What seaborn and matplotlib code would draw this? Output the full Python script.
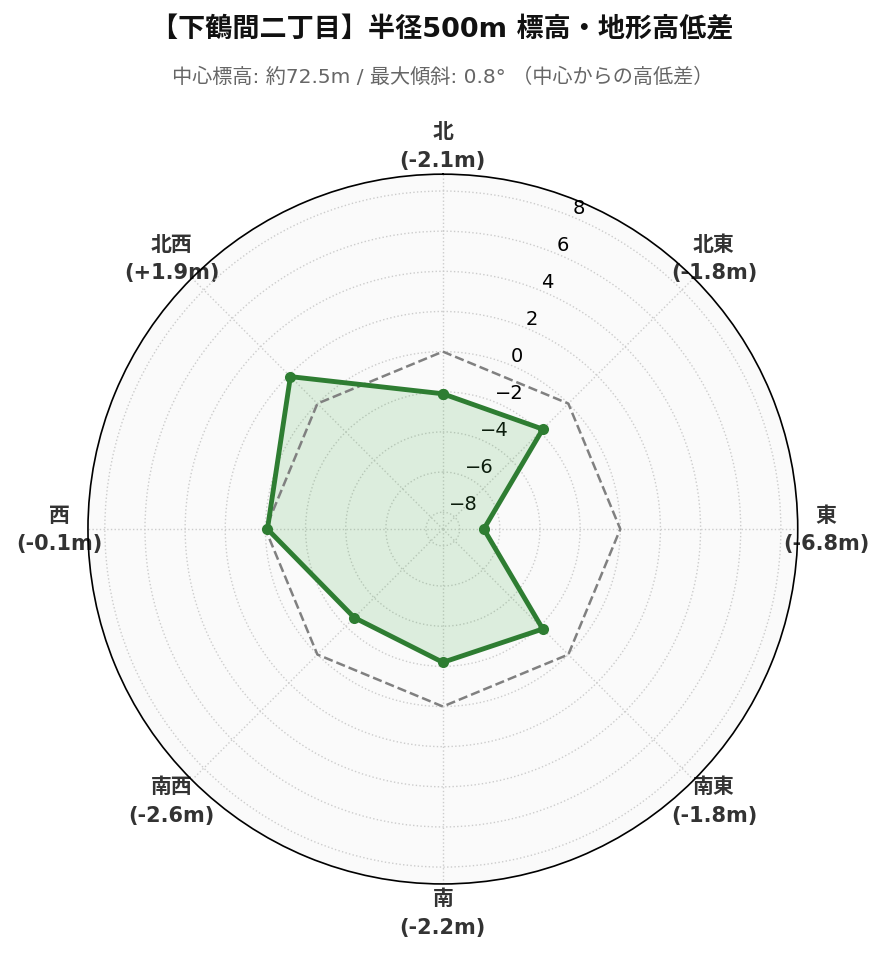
import numpy as np
import pandas as pd
import seaborn as sns
import matplotlib.pyplot as plt

directions = ["北", "北東", "東", "南東", "南", "南西", "西", "北西"]
diffs = [-2.1, -1.8, -6.8, -1.8, -2.2, -2.6, -0.1, 1.9]
r_ticks = [-8, -6, -4, -2, 0, 2, 4, 6, 8]

title = "【下鶴間二丁目】半径500m 標高・地形高低差"
subtitle = "中心標高: 約72.5m / 最大傾斜: 0.8° （中心からの高低差）"

sns.set_style("white")
plt.rcParams["font.family"] = ["DejaVu Sans", "Noto Sans CJK JP"]

green = "#2e7d32"
angles = np.linspace(0, 2 * np.pi, len(directions), endpoint=False)
df = pd.DataFrame({
    "angle": np.append(angles, 2 * np.pi),
    "diff": diffs + diffs[:1],
})
lim = max(abs(v) for v in diffs) * 1.3

fig = plt.figure(figsize=(8.85, 9.62), dpi=100)
ax = fig.add_axes([0.0994, 0.080, 0.802, 0.738], projection="polar")
ax.set_theta_offset(np.pi / 2)
ax.set_theta_direction(-1)
ax.set_facecolor("#fafafa")

# zero reference
ax.plot(df["angle"], [0] * len(df), color="gray", linestyle="--", linewidth=1.8, zorder=2)

sns.lineplot(data=df, x="angle", y="diff", sort=False, color=green, linewidth=3.5,
             marker="o", markersize=8, markeredgewidth=0, ax=ax, zorder=3)
ax.fill(df["angle"], df["diff"], color="#4caf50", alpha=0.17, linewidth=0, zorder=1)

ax.set_ylim(-lim, lim)
ax.set_yticks(r_ticks)
ax.set_yticklabels([f"{t}".replace("-", "\u2212") for t in r_ticks], fontsize=14, color="black")
ax.set_rlabel_position(22.5)
ax.set_xticks(angles)
ax.set_xticklabels([f"{d}\n({v:+.1f}m)" if v > 0 else f"{d}\n({v:.1f}m)"
                    for d, v in zip(directions, diffs)],
                   fontsize=15, fontweight="bold", color="#333333", linespacing=1.55)
ax.tick_params(axis="x", pad=10)
ax.grid(True, color="#cccccc", linestyle=":", linewidth=1.0)
ax.spines["polar"].set_color("black")
ax.spines["polar"].set_linewidth(1.2)
ax.set_xlabel("")
ax.set_ylabel("")

fig.text(0.5, 0.968, title, ha="center", va="center", fontsize=19.5, fontweight="bold", color="#111111")
fig.text(0.5, 0.920, subtitle, ha="center", va="center", fontsize=14.5, color="#666666")

fig.savefig("out.png", dpi=100)
